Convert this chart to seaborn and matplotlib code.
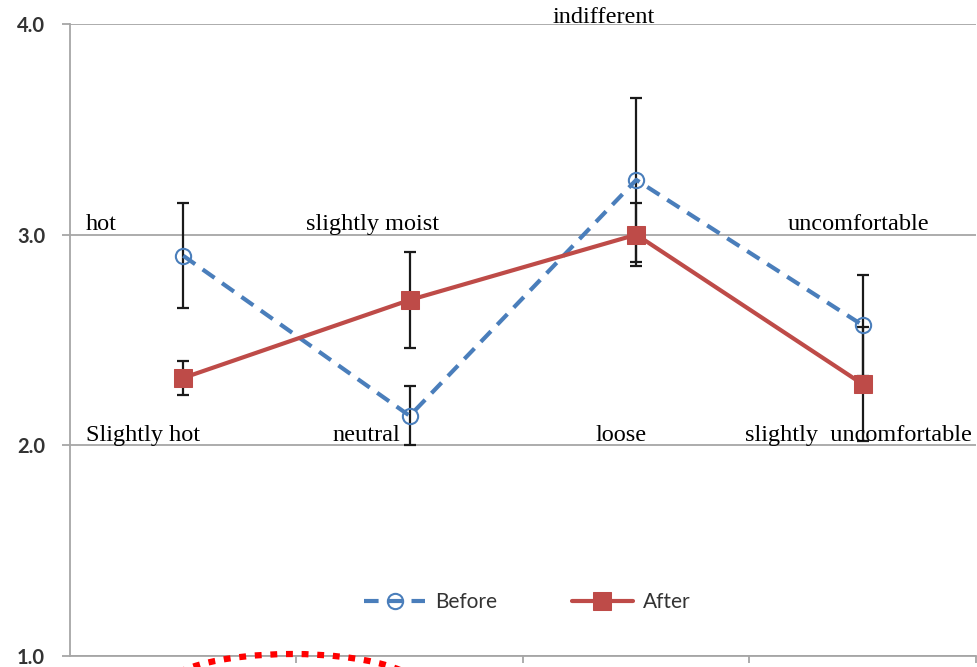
import matplotlib
matplotlib.use("Agg")
import matplotlib.pyplot as plt
from matplotlib.patches import Ellipse
import numpy as np
import pandas as pd
import seaborn as sns

# data
stages = ['S1', 'S2', 'S3', 'S4']
before = [2.90, 2.14, 3.26, 2.57]
before_err = [0.25, 0.14, 0.39, 0.24]
after = [2.32, 2.69, 3.00, 2.29]
after_err = [0.08, 0.23, 0.15, 0.27]
y_ticks = [1.0, 2.0, 3.0, 4.0]

# scale labels written inside the plot (text, x, y)
upper_notes = [('hot', -0.43, 3.02), ('slightly moist', 0.54, 3.02),
               ('indifferent', 1.63, 4.005), ('uncomfortable', 2.67, 3.02)]
lower_notes = [('Slightly hot', -0.43, 2.02), ('neutral', 0.66, 2.02),
               ('loose', 1.82, 2.02), ('slightly  uncomfortable', 2.48, 2.02)]

sns.set_theme(style='white')
plt.rcParams['font.family'] = ['Lato', 'DejaVu Sans']

blue = '#4a7ebb'
red = '#be4b48'
grey = '#a6a6a6'

fig = plt.figure(figsize=(9.78, 6.67), dpi=100)
ax = fig.add_axes([70 / 978, 1 - 656 / 667, 906 / 978, 632 / 667])

pos = np.arange(len(stages))
df = pd.DataFrame({'pos': pos, 'Before': before, 'After': after})

# error bars underneath the lines
ax.errorbar(pos, before, yerr=before_err, fmt='none', ecolor='#1a1a1a',
            elinewidth=1.6, capsize=4.5, capthick=1.6, zorder=1.5)
ax.errorbar(pos, after, yerr=after_err, fmt='none', ecolor='#1a1a1a',
            elinewidth=1.6, capsize=4.5, capthick=1.6, zorder=1.5)

sns.lineplot(data=df, x='pos', y='Before', ax=ax, color=blue, lw=3,
             linestyle=(0, (3.5, 2.2)), marker='o', ms=11, mfc='none',
             mec=blue, mew=1.5, label='Before', errorbar=None, zorder=2)
sns.lineplot(data=df, x='pos', y='After', ax=ax, color=red, lw=3,
             marker='s', ms=12.5, mec=red, mfc=red, label='After',
             errorbar=None, zorder=2.5)

for txt, x, y in upper_notes + lower_notes:
    ax.text(x, y, txt, family='Liberation Serif', fontsize=17.5, color='black',
            ha='left', va='baseline', zorder=3, clip_on=False)

ax.set_xlim(-0.5, 3.5)
ax.set_ylim(1.0, 4.0)
ax.set_xticks(np.arange(len(stages)) + 0.5)
ax.set_xticklabels([])
ax.set_yticks(y_ticks)
ax.set_yticklabels([f'{v:.1f}' for v in y_ticks])
ax.set_xlabel('')
ax.set_ylabel('')

ax.yaxis.grid(True, color=grey, lw=1.3)
ax.xaxis.grid(False)
for s in ['top', 'right']:
    ax.spines[s].set_visible(False)
for s in ['left', 'bottom']:
    ax.spines[s].set_color(grey)
    ax.spines[s].set_linewidth(1.3)
ax.tick_params(axis='y', direction='out', length=6, width=1.3, color=grey,
               labelsize=14.5, labelcolor='#333333', pad=12, left=True)
ax.tick_params(axis='x', direction='out', length=5, width=1.3, color=grey,
               bottom=True)
for lab in ax.get_yticklabels():
    lab.set_fontweight('bold')

leg = ax.legend(loc='center', bbox_to_anchor=(0.505, 0.085), ncol=2,
                frameon=False, fontsize=15, handlelength=2.9,
                columnspacing=3.6, handletextpad=0.5)
for t in leg.get_texts():
    t.set_color('#333333')

# red dotted highlight arc below the axis
arc = Ellipse((292 / 978, 1 - 690 / 667), 260 / 978, 72 / 667,
              transform=fig.transFigure, fill=False, edgecolor='#ff0000',
              lw=4.5, linestyle=(0, (1.1, 1.4)), clip_on=False)
fig.patches.append(arc)

fig.savefig('out.png', dpi=100)
